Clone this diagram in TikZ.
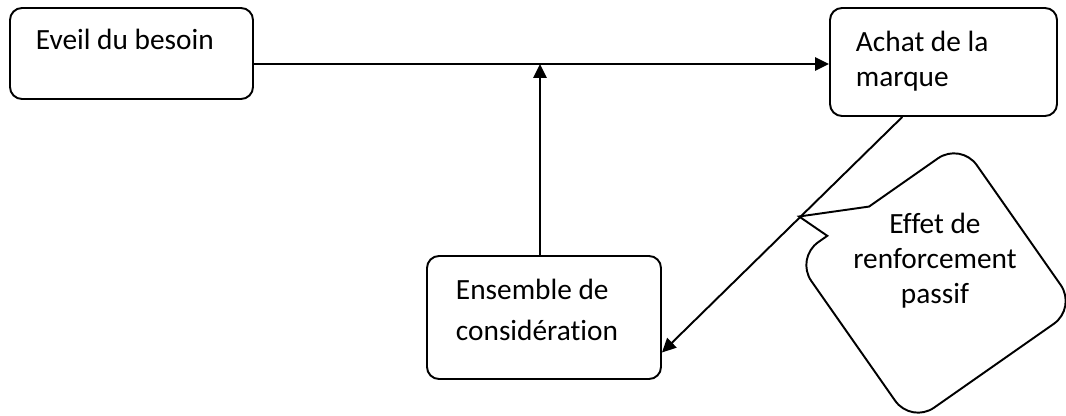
\documentclass[tikz,border=0pt]{standalone}
\usepackage{fontspec}
\setmainfont{Carlito}[Ligatures=NoCommon]
\usetikzlibrary{arrows.meta,calc}
\begin{document}
\begin{tikzpicture}[x=0.75pt,y=-0.75pt,
  box/.style={draw, line width=1.45pt, rounded corners=9pt, inner sep=0pt},
  lbl/.style={anchor=base west, inner sep=0pt, align=left},
  arr/.style={line width=1.45pt, -{Triangle[length=10.5pt,width=10pt]}},
  line width=1.45pt]
\useasboundingbox (0,0) rectangle (1066,416);
% boxes
\node[box, minimum width=182.25pt, minimum height=68.25pt] (b1) at (131.5,53.5) {};
\node[box, minimum width=170.25pt, minimum height=81pt] (b2) at (943.5,62) {};
\node[box, minimum width=175.5pt, minimum height=92.25pt] (b3) at (544,317.5) {};
% texts (anchor = baseline of last line)
\node[lbl, font=\fontsize{22}{26}\selectfont] (t1) at (35,50) {Eveil du besoin};
\node[lbl, font=\fontsize{22}{26.25}\selectfont] (t2) at (855,87) {Achat de la\\marque};
\node[lbl, font=\fontsize{22}{30.5}\selectfont] (t3) at (455,340.5) {Ensemble de\\considération};
% callout
\begin{scope}[shift={(936,283)}, rotate=35, y=0.75pt]
  \draw[line width=1.45pt] (-11,101) -- (-74,133) -- (-62,101) -- (-73,101)
    arc[start angle=90, end angle=180, radius=21pt] -- (-101,-73)
    arc[start angle=180, end angle=270, radius=21pt] -- (73,-101)
    arc[start angle=270, end angle=360, radius=21pt] -- (101,73)
    arc[start angle=0, end angle=90, radius=21pt] -- cycle;
\end{scope}
\node[anchor=base, inner sep=0pt, align=center, font=\fontsize{22}{26.6}\selectfont] (t4) at (935,304) {Effet de\\renforcement\\passif};
% connectors
\coordinate (j) at (540,64);
\draw[arr] (b1.east |- j) -- (b2.west |- j);
\draw[arr] (j |- b3.north) -- (j);
\draw[arr] ($(b2.south west)!0.32!(b2.south east)$) -- ($(b3.north east)!0.78!(b3.south east)$);
\end{tikzpicture}
\end{document}
